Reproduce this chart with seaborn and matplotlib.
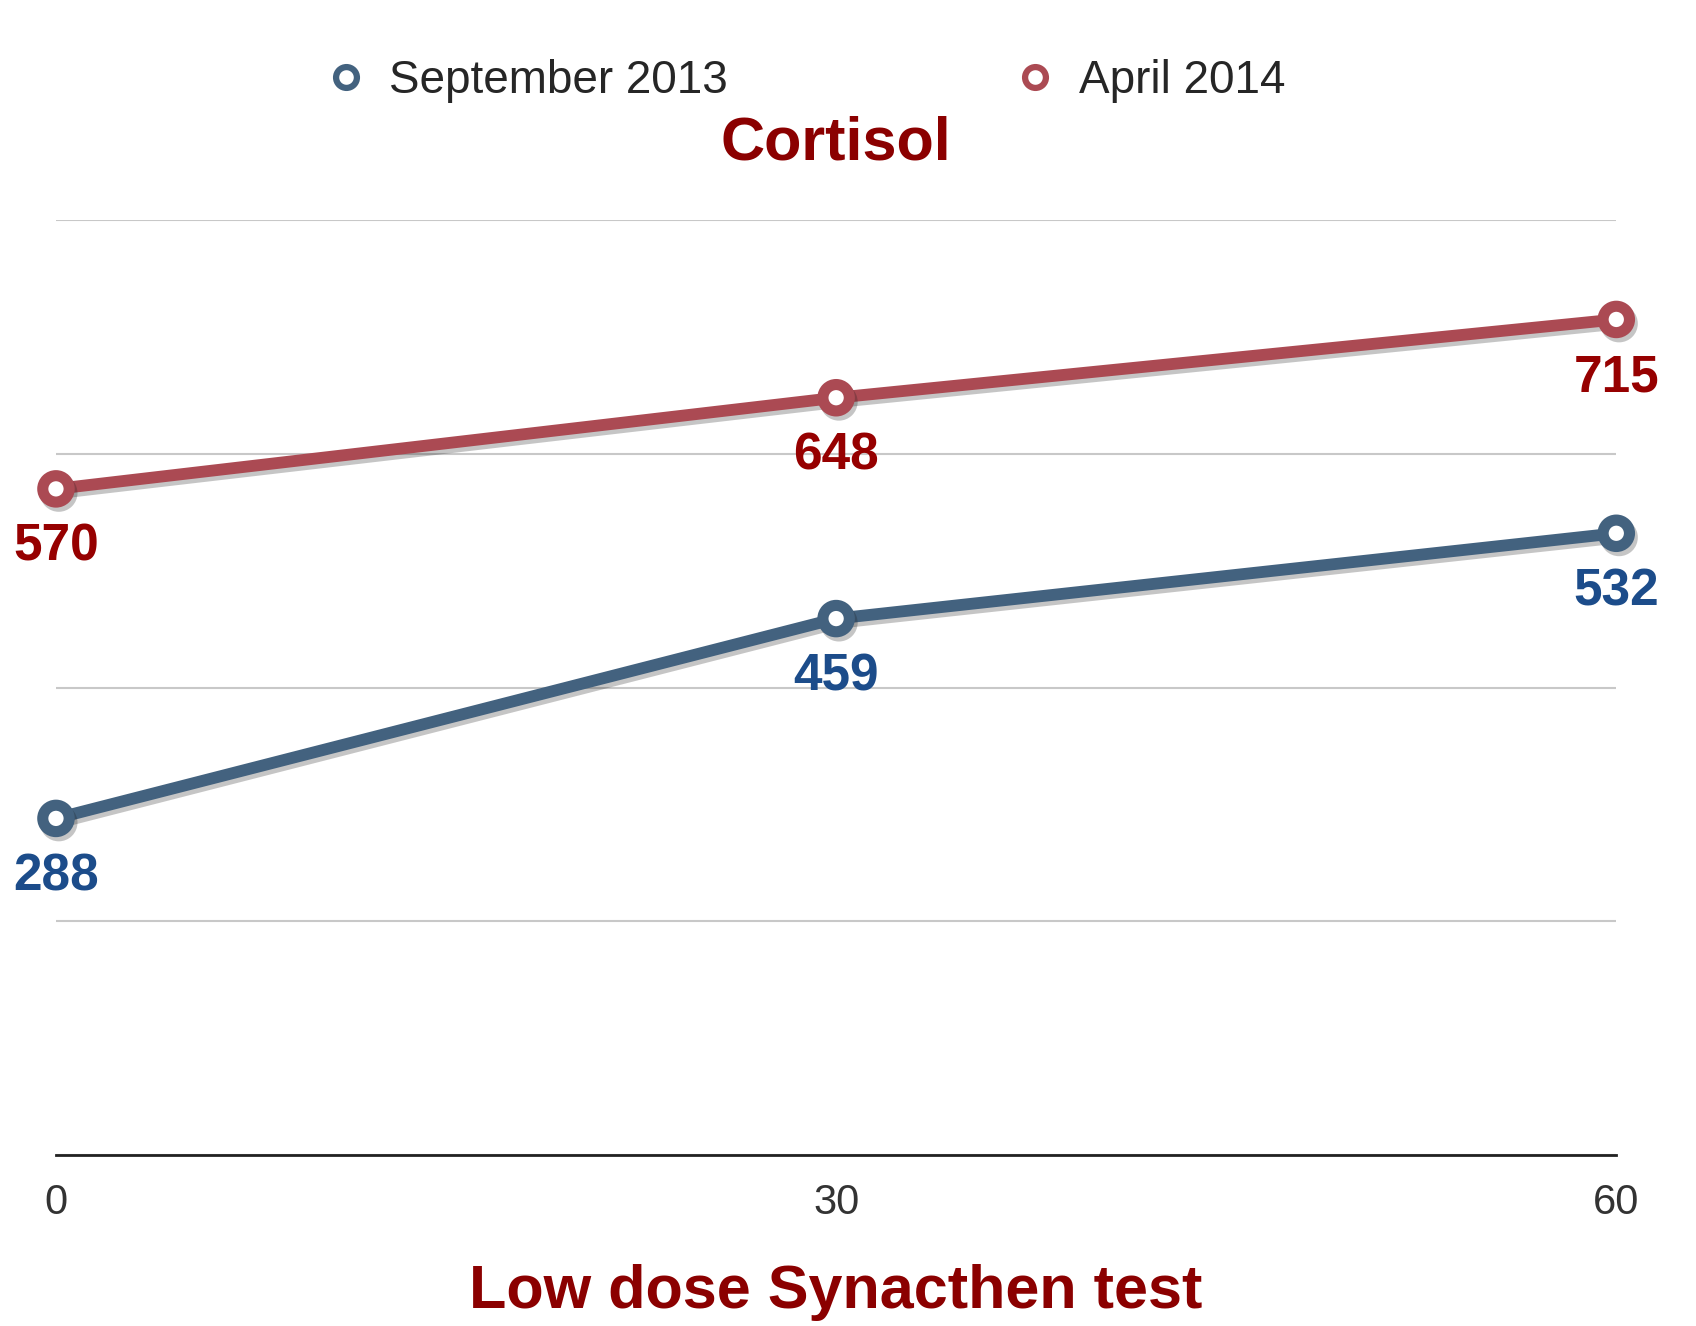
import matplotlib
matplotlib.use('Agg')
import matplotlib.pyplot as plt
import matplotlib.patheffects as pe
from matplotlib.lines import Line2D
import seaborn as sns
import pandas as pd

#   Low dose Synacthen test, cortisol readings
minutes = [0, 30, 60]
sep2013 = [288, 459, 532]
apr2014 = [570, 648, 715]
seriesNames = ['September 2013', 'April 2014']

lineColours = {'September 2013': '#43627f', 'April 2014': '#ab4a53'}
labelColours = {'September 2013': '#1c4c8a', 'April 2014': '#960000'}

cortisol_df = pd.DataFrame({
    'Minutes': minutes * 2,
    'Cortisol': sep2013 + apr2014,
    'Test': [seriesNames[0]] * 3 + [seriesNames[1]] * 3,
})

sns.set_theme(style='white')
plt.rcParams['font.family'] = ['Liberation Sans', 'DejaVu Sans']

fig = plt.figure(figsize=(16.96, 13.26), dpi=100)
ax = fig.add_axes([0.033, 0.129, 0.92, 0.705])

plot1 = sns.lineplot(data=cortisol_df, x='Minutes', y='Cortisol', hue='Test',
                     palette=lineColours, hue_order=seriesNames, marker='o',
                     markersize=19, markeredgewidth=8, markerfacecolor='white',
                     linewidth=8.5, legend=False, ax=ax)
for line in ax.lines:
    line.set_markeredgecolor(line.get_color())
    line.set_clip_on(False)
    line.set_path_effects([pe.SimpleLineShadow(offset=(2, -3), alpha=0.25), pe.Normal()])

#   Value labels under each point
for name, values in zip(seriesNames, [sep2013, apr2014]):
    for xVal, yVal in zip(minutes, values):
        ax.annotate(str(yVal), (xVal, yVal), xytext=(0, -42), textcoords='offset points',
                    ha='center', va='center', fontsize=37, fontweight='bold',
                    color=labelColours[name], annotation_clip=False)

ax.set_xlim(0, 60)
ax.set_ylim(0, 800)
ax.set_xticks(minutes)
ax.set_yticks([0, 200, 400, 600, 800])
ax.set_yticklabels([])
ax.yaxis.grid(True, color='#c8c8c8', linewidth=1.5)
ax.set_axisbelow(True)
ax.tick_params(axis='x', labelsize=30, labelcolor='#333333', length=0, pad=20)
ax.tick_params(axis='y', length=0)
for side in ['top', 'left', 'right']:
    ax.spines[side].set_visible(False)
ax.spines['bottom'].set_color('#222222')
ax.spines['bottom'].set_linewidth(2)

ax.set_xlabel('Low dose Synacthen test', fontsize=44, fontweight='bold', color='#8b0000', labelpad=30)
ax.set_ylabel('')
ax.set_title('Cortisol', fontsize=44, fontweight='bold', color='#8b0000', pad=44)

handles = [Line2D([], [], linestyle='none', marker='o', markersize=15, markeredgewidth=4.5,
                  markerfacecolor='white', markeredgecolor=lineColours[n]) for n in seriesNames]
fig.legend(handles, seriesNames, loc='center', bbox_to_anchor=(0.474, 0.939), ncol=2,
           frameon=False, fontsize=33, columnspacing=6.2, handlelength=1, handletextpad=0.45)

plt.savefig('out.png', dpi=100)
